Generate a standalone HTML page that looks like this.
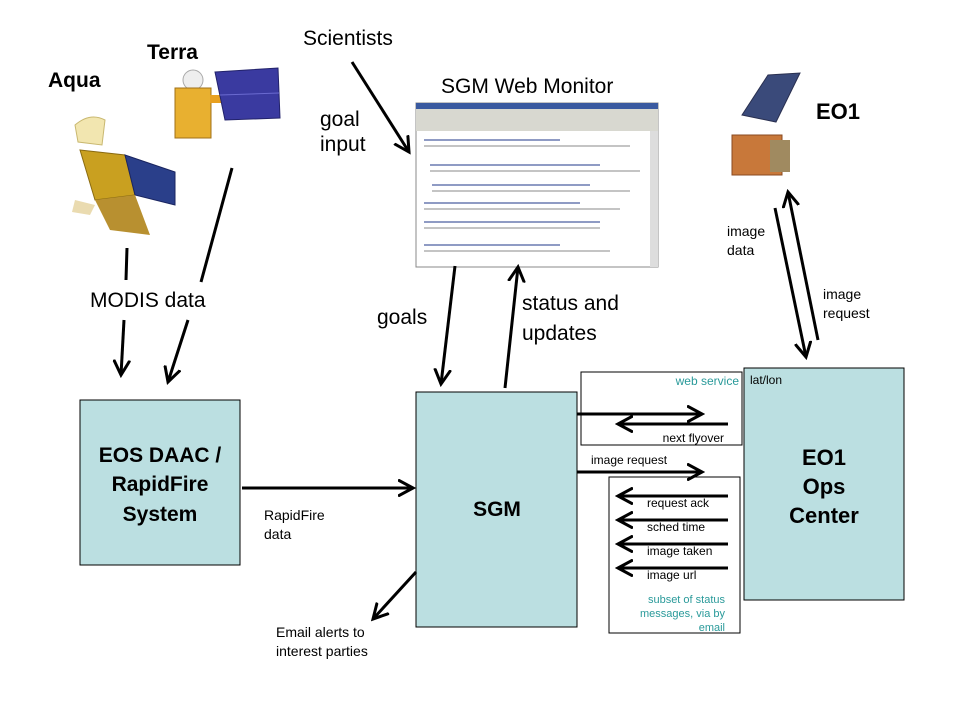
<!DOCTYPE html>
<html><head><meta charset="utf-8"><style>
body{margin:0;background:#fff}
svg{display:block;font-family:"Liberation Sans",sans-serif}
</style></head><body>
<svg width="960" height="720" viewBox="0 0 960 720" xmlns="http://www.w3.org/2000/svg">
<defs>
<marker id="a" markerWidth="6" markerHeight="6" refX="5" refY="3" orient="auto" markerUnits="strokeWidth">
<path d="M0,0.3 L5,3 L0,5.7" fill="none" stroke="#000" stroke-width="1"/>
</marker>
</defs>
<rect width="960" height="720" fill="#fff"/>

<!-- titles -->
<text x="48" y="87" font-size="21" font-weight="bold">Aqua</text>
<text x="147" y="59" font-size="21" font-weight="bold">Terra</text>
<text x="303" y="45" font-size="21">Scientists</text>
<text x="441" y="93" font-size="21">SGM Web Monitor</text>
<text x="320" y="126" font-size="21">goal</text>
<text x="320" y="151" font-size="21">input</text>
<text x="816" y="119" font-size="22" font-weight="bold">EO1</text>

<!-- Aqua satellite -->
<g>
<path d="M75,125 Q90,112 105,120 L102,145 L78,142 Z" fill="#f2e6b0" stroke="#c9b870"/>
<path d="M80,150 L125,155 L135,195 L95,200 Z" fill="#c9a020" stroke="#8a6a10"/>
<path d="M125,155 L175,172 L175,205 L135,195 Z" fill="#2a3f8a" stroke="#1a2560"/>
<path d="M95,200 L135,195 L150,235 L110,230 Z" fill="#b89030"/>
<path d="M75,200 L95,205 L90,215 L72,212 Z" fill="#eadbb0"/>
</g>
<!-- Terra satellite -->
<g>
<circle cx="193" cy="80" r="10" fill="#eee" stroke="#aaa"/>
<rect x="175" y="88" width="36" height="50" fill="#e8b030" stroke="#a07018"/>
<rect x="210" y="95" width="18" height="8" fill="#e8a020"/>
<path d="M215,72 L278,68 L280,118 L225,120 Z" fill="#3a3aa0" stroke="#22226a"/>
<line x1="220" y1="95" x2="279" y2="93" stroke="#6a6ad0"/>
</g>
<!-- EO1 satellite -->
<g>
<path d="M742,115 L768,75 L800,73 L776,122 Z" fill="#3a4a7a" stroke="#2a3050"/>
<rect x="732" y="135" width="50" height="40" fill="#c8783a" stroke="#8a4a20"/>
<rect x="770" y="140" width="20" height="32" fill="#a08a60"/>
</g>

<!-- web monitor screenshot -->
<rect x="416" y="103" width="242" height="164" fill="#fff" stroke="#888"/>
<rect x="416" y="103" width="242" height="6" fill="#3a5aa0"/>
<rect x="416" y="109" width="242" height="22" fill="#d8d8d0"/>
<rect x="650" y="131" width="8" height="136" fill="#ddd"/>
<g stroke="#6a7ab0" stroke-width="1.5">
<line x1="424" y1="140" x2="560" y2="140"/><line x1="430" y1="165" x2="600" y2="165"/>
<line x1="432" y1="185" x2="590" y2="185"/><line x1="424" y1="203" x2="580" y2="203"/>
<line x1="424" y1="222" x2="600" y2="222"/><line x1="424" y1="245" x2="560" y2="245"/>
</g>
<g stroke="#888" stroke-width="1">
<line x1="424" y1="146" x2="630" y2="146"/><line x1="430" y1="171" x2="640" y2="171"/>
<line x1="432" y1="191" x2="630" y2="191"/><line x1="424" y1="209" x2="620" y2="209"/>
<line x1="424" y1="228" x2="600" y2="228"/><line x1="424" y1="251" x2="610" y2="251"/>
</g>

<!-- top arrows -->
<g stroke="#000" stroke-width="3" fill="none">
<line x1="352" y1="62" x2="409" y2="152" marker-end="url(#a)"/>
<line x1="127" y1="248" x2="126" y2="280"/>
<line x1="124" y1="320" x2="121" y2="375" marker-end="url(#a)"/>
<line x1="232" y1="168" x2="201" y2="282"/>
<line x1="188" y1="320" x2="168" y2="382" marker-end="url(#a)"/>
<line x1="455" y1="266" x2="441" y2="384" marker-end="url(#a)"/>
<line x1="505" y1="388" x2="518" y2="267" marker-end="url(#a)"/>
<line x1="775" y1="208" x2="806" y2="357" marker-end="url(#a)"/>
<line x1="818" y1="340" x2="788" y2="192" marker-end="url(#a)"/>
</g>
<text x="90" y="307" font-size="21">MODIS data</text>
<text x="377" y="324" font-size="21">goals</text>
<text x="522" y="310" font-size="21">status and</text>
<text x="522" y="340" font-size="21">updates</text>
<text x="727" y="236" font-size="14">image</text>
<text x="727" y="255" font-size="14">data</text>
<text x="823" y="299" font-size="14">image</text>
<text x="823" y="318" font-size="14">request</text>

<!-- boxes -->
<rect x="80" y="400" width="160" height="165" fill="#bbdfe1" stroke="#000"/>
<text x="160" y="462" font-size="21" font-weight="bold" text-anchor="middle">EOS DAAC /</text>
<text x="160" y="491" font-size="21" font-weight="bold" text-anchor="middle">RapidFire</text>
<text x="160" y="521" font-size="21" font-weight="bold" text-anchor="middle">System</text>

<rect x="416" y="392" width="161" height="235" fill="#bbdfe1" stroke="#000"/>
<text x="497" y="516" font-size="21" font-weight="bold" text-anchor="middle">SGM</text>

<rect x="744" y="368" width="160" height="232" fill="#bbdfe1" stroke="#000"/>
<text x="750" y="384" font-size="12">lat/lon</text>
<text x="824" y="465" font-size="22" font-weight="bold" text-anchor="middle">EO1</text>
<text x="824" y="494" font-size="22" font-weight="bold" text-anchor="middle">Ops</text>
<text x="824" y="523" font-size="22" font-weight="bold" text-anchor="middle">Center</text>

<rect x="581" y="372" width="161" height="73" fill="none" stroke="#000"/>
<text x="739" y="385" font-size="12" fill="#2a9a9a" text-anchor="end">web service</text>
<text x="724" y="442" font-size="12" text-anchor="end">next flyover</text>

<rect x="609" y="477" width="131" height="156" fill="none" stroke="#000"/>
<g font-size="12"><text x="647" y="507">request ack</text><text x="647" y="531">sched time</text>
<text x="647" y="555">image taken</text><text x="647" y="579">image url</text></g>
<g font-size="11" fill="#2a9a9a" text-anchor="end"><text x="725" y="603">subset of status</text>
<text x="725" y="617">messages, via by</text><text x="725" y="631">email</text></g>

<g stroke="#000" stroke-width="3" fill="none">
<line x1="242" y1="488" x2="413" y2="488" marker-end="url(#a)"/>
<line x1="416" y1="572" x2="373" y2="619" marker-end="url(#a)"/>
<line x1="577" y1="414" x2="702" y2="414" marker-end="url(#a)"/>
<line x1="728" y1="424" x2="618" y2="424" marker-end="url(#a)"/>
<line x1="577" y1="472" x2="702" y2="472" marker-end="url(#a)"/>
<line x1="728" y1="496" x2="618" y2="496" marker-end="url(#a)"/>
<line x1="728" y1="520" x2="618" y2="520" marker-end="url(#a)"/>
<line x1="728" y1="544" x2="618" y2="544" marker-end="url(#a)"/>
<line x1="728" y1="568" x2="618" y2="568" marker-end="url(#a)"/>
</g>
<text x="591" y="464" font-size="12">image request</text>
<text x="264" y="520" font-size="14">RapidFire</text>
<text x="264" y="539" font-size="14">data</text>
<text x="276" y="637" font-size="14">Email alerts to</text>
<text x="276" y="656" font-size="14">interest parties</text>
</svg>
</body></html>
